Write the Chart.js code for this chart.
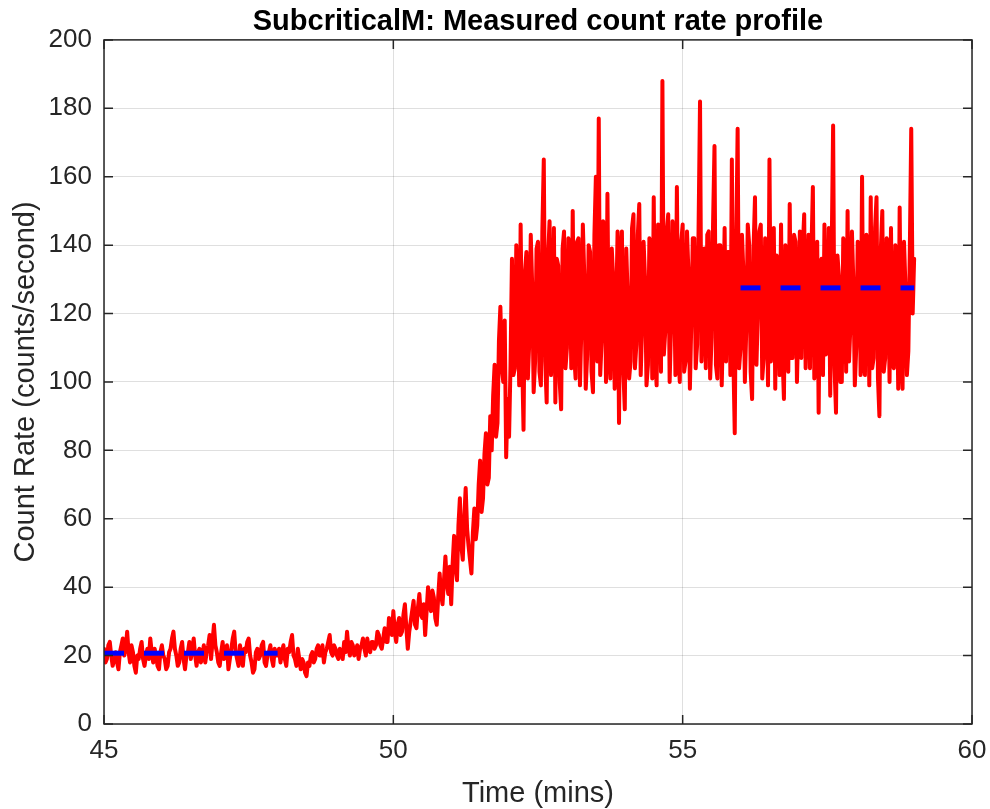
<!DOCTYPE html>
<html lang="en">
  <head>
    <meta charset="UTF-8" />
    <title>SubcriticalM count rate</title>
    <script src="https://cdn.jsdelivr.net/npm/chart.js@4.4.0/dist/chart.umd.min.js"></script>
    <style>
      body { margin: 0; background: #fff; }
    </style>
  </head>
  <body>
    <canvas id="rate" width="990" height="809"></canvas>

    <script>
      // samples every 0.025 min (1.5 s), starting at 45 min
      const startTime = 45;
      const sampleStep = 0.025;

      // count rate (counts/second)
      const countRate = [
        // 45.0 - 45.975
        22, 18, 19, 23, 24, 20, 17, 19, 21, 18, 16, 21, 23, 25, 20, 22, 27, 21, 18, 23,
        21, 17, 15, 20, 19, 22, 24, 19, 17, 20, 22, 19, 25, 21, 18, 22, 20, 17, 16, 21,
        // 46.0 - 46.975
        23, 20, 19, 16, 17, 21, 22, 25, 27, 22, 20, 17, 18, 22, 24, 19, 16, 20, 21, 24,
        19, 22, 25, 20, 17, 21, 22, 18, 20, 23, 18, 21, 23, 26, 19, 24, 29, 23, 21, 18,
        // 47.0 - 47.975
        17, 21, 24, 19, 20, 23, 16, 19, 22, 25, 27, 21, 19, 17, 23, 20, 17, 22, 21, 24,
        25, 20, 18, 15, 16, 21, 22, 19, 20, 23, 24, 18, 17, 20, 21, 23, 19, 17, 22, 20,
        // 48.0 - 48.975
        20, 22, 18, 21, 23, 19, 17, 22, 21, 24, 26, 20, 19, 17, 22, 19, 16, 19, 18, 15,
        14, 18, 17, 20, 21, 18, 19, 22, 23, 20, 20, 23, 18, 21, 22, 24, 26, 21, 20, 23,
        // 49.0 - 49.975
        22, 20, 19, 22, 21, 19, 24, 21, 27, 22, 20, 24, 23, 20, 21, 23, 19, 22, 23, 25,
        22, 20, 25, 22, 21, 24, 24, 22, 23, 27, 26, 23, 22, 25, 28, 24, 24, 31, 29, 26,
        // 50.0 - 50.975
        33, 27, 24, 29, 31, 26, 27, 32, 35, 28, 22, 27, 30, 33, 36, 29, 28, 34, 38, 32,
        31, 35, 26, 33, 40, 35, 33, 39, 37, 31, 29, 37, 44, 38, 35, 42, 49, 41, 38, 46,
        // 51.0 - 51.975
        35, 47, 55, 46, 42, 58, 66, 52, 48, 60, 69, 57, 52, 48, 44, 56, 63, 54, 58, 70,
        77, 62, 66, 79, 85, 70, 72, 90, 80, 96, 105, 84, 88, 112, 122, 104, 100, 118, 78, 95,
        // 52.0 - 52.975
        84, 105, 136, 102, 104, 140, 125, 99, 146, 108, 86, 132, 138, 101, 112, 143, 128, 97, 106, 139,
        141, 103, 99, 144, 165, 106, 94, 137, 147, 102, 118, 145, 94, 136, 134, 100, 92, 139, 144, 104,
        // 53.0 - 53.975
        110, 142, 138, 104, 150, 108, 101, 141, 142, 99, 116, 146, 131, 98, 108, 140, 138, 103, 97, 143,
        160, 106, 177, 102, 112, 147, 145, 100, 155, 109, 101, 139, 130, 98, 119, 144, 88, 136, 144, 103,
        // 54.0 - 54.975
        92, 139, 125, 101, 106, 145, 149, 104, 111, 143, 152, 102, 117, 141, 130, 99, 105, 142, 136, 101,
        154, 107, 99, 146, 128, 103, 188, 108, 115, 144, 149, 100, 117, 147, 133, 102, 157, 109, 100, 141,
        // 55.0 - 55.975
        146, 103, 106, 144, 132, 98, 118, 142, 142, 104, 111, 145, 182, 106, 120, 139, 104, 143, 144, 101,
        113, 146, 169, 105, 101, 140, 140, 99, 118, 145, 106, 138, 138, 102, 165, 108, 85, 140, 174, 104,
        // 56.0 - 56.975
        110, 143, 132, 100, 116, 146, 140, 103, 95, 139, 154, 105, 121, 144, 146, 101, 107, 142, 128, 99,
        165, 106, 115, 145, 98, 137, 133, 102, 146, 108, 95, 140, 127, 103, 152, 107, 107, 143, 141, 100,
        // 57.0 - 57.975
        118, 144, 107, 139, 149, 104, 122, 143, 104, 138, 157, 101, 126, 141, 91, 135, 136, 102, 146, 108,
        112, 145, 96, 138, 175, 104, 91, 137, 131, 100, 100, 142, 138, 103, 150, 106, 117, 144, 129, 99,
        // 58.0 - 59.0
        110, 141, 140, 102, 160, 106, 102, 143, 134, 99, 154, 104, 107, 145, 154, 101, 90, 139, 150, 103,
        107, 142, 141, 100, 145, 105, 104, 140, 130, 98, 151, 107, 98, 141, 128, 102, 109, 138, 174, 120,
        136
      ];

      // mean levels (dashed): before and after the step
      const lowMeanTimes = [45, 48];
      const lowMean = [20.7, 20.7];
      const highMeanTimes = [56, 59];
      const highMean = [127.5, 127.5];

      const xTicks = [45, 50, 55, 60];
      const yTicks = [0, 20, 40, 60, 80, 100, 120, 140, 160, 180, 200];

      const axisColor = "#262626";
      const fontFamily = "'Liberation Sans', Arial, Helvetica, sans-serif";

      const ratePoints = countRate.map((v, i) => ({
        x: startTime + i * sampleStep,
        y: v,
      }));
      const lowPoints = lowMeanTimes.map((t, i) => ({ x: t, y: lowMean[i] }));
      const highPoints = highMeanTimes.map((t, i) => ({ x: t, y: highMean[i] }));

      // box round the axes with inward tick marks
      const frame = {
        id: "frame",
        afterDraw(chart) {
          const ctx = chart.ctx;
          const { left, right, top, bottom } = chart.chartArea;
          const xs = chart.scales.x;
          const ys = chart.scales.y;
          const tl = 9;
          ctx.save();
          ctx.strokeStyle = axisColor;
          ctx.lineWidth = 1.5;
          ctx.beginPath();
          xTicks.forEach((t) => {
            const px = xs.getPixelForValue(t);
            ctx.moveTo(px, bottom);
            ctx.lineTo(px, bottom - tl);
            ctx.moveTo(px, top);
            ctx.lineTo(px, top + tl);
          });
          yTicks.forEach((t) => {
            const py = ys.getPixelForValue(t);
            ctx.moveTo(left, py);
            ctx.lineTo(left + tl, py);
            ctx.moveTo(right, py);
            ctx.lineTo(right - tl, py);
          });
          ctx.stroke();
          ctx.strokeRect(left, top, right - left, bottom - top);
          ctx.restore();
        },
      };

      new Chart(document.getElementById("rate"), {
        type: "line",
        data: {
          datasets: [
            {
              label: "Count rate",
              data: ratePoints,
              borderColor: "#ff0000",
              borderWidth: 4,
              borderJoinStyle: "round",
              borderCapStyle: "round",
              pointRadius: 0,
              tension: 0,
              order: 2,
            },
            {
              label: "Mean (before)",
              data: lowPoints,
              borderColor: "#0000ff",
              borderWidth: 5,
              borderDash: [20, 20],
              pointRadius: 0,
              order: 1,
            },
            {
              label: "Mean (after)",
              data: highPoints,
              borderColor: "#0000ff",
              borderWidth: 5,
              borderDash: [20, 20],
              pointRadius: 0,
              order: 1,
            },
          ],
        },
        options: {
          responsive: false,
          animation: false,
          layout: { padding: { left: 0, right: 18, top: 0, bottom: 0 } },
          scales: {
            x: {
              type: "linear",
              min: 45,
              max: 60,
              afterBuildTicks: (s) => {
                s.ticks = xTicks.map((v) => ({ value: v }));
              },
              afterFit: (s) => {
                s.height = 85;
                s.paddingLeft = 0;
                s.paddingRight = 0;
              },
              grid: { color: "rgba(38,38,38,0.15)", drawTicks: false },
              border: { display: false },
              ticks: {
                color: axisColor,
                padding: 11,
                maxRotation: 0,
                font: { family: fontFamily, size: 26 },
              },
              title: {
                display: true,
                text: "Time (mins)",
                color: axisColor,
                padding: { top: 0, bottom: 1 },
                font: { family: fontFamily, size: 29, lineHeight: 1 },
              },
            },
            y: {
              min: 0,
              max: 200,
              afterBuildTicks: (s) => {
                s.ticks = yTicks.map((v) => ({ value: v }));
              },
              afterFit: (s) => {
                s.width = 104;
                s.paddingTop = 0;
                s.paddingBottom = 0;
              },
              grid: { color: "rgba(38,38,38,0.15)", drawTicks: false },
              border: { display: false },
              ticks: {
                color: axisColor,
                padding: 12,
                font: { family: fontFamily, size: 26 },
              },
              title: {
                display: true,
                text: "Count Rate (counts/second)",
                color: axisColor,
                padding: { top: 11, bottom: 0 },
                font: { family: fontFamily, size: 29, lineHeight: 1 },
              },
            },
          },
          plugins: {
            legend: { display: false },
            tooltip: { enabled: false },
            title: {
              display: true,
              fullSize: false,
              text: "SubcriticalM: Measured count rate profile",
              color: "#000",
              padding: { top: 6, bottom: 2 },
              font: { family: fontFamily, size: 29, weight: "bold", lineHeight: 1.1 },
            },
          },
        },
        plugins: [frame],
      });
    </script>
  </body>
</html>
